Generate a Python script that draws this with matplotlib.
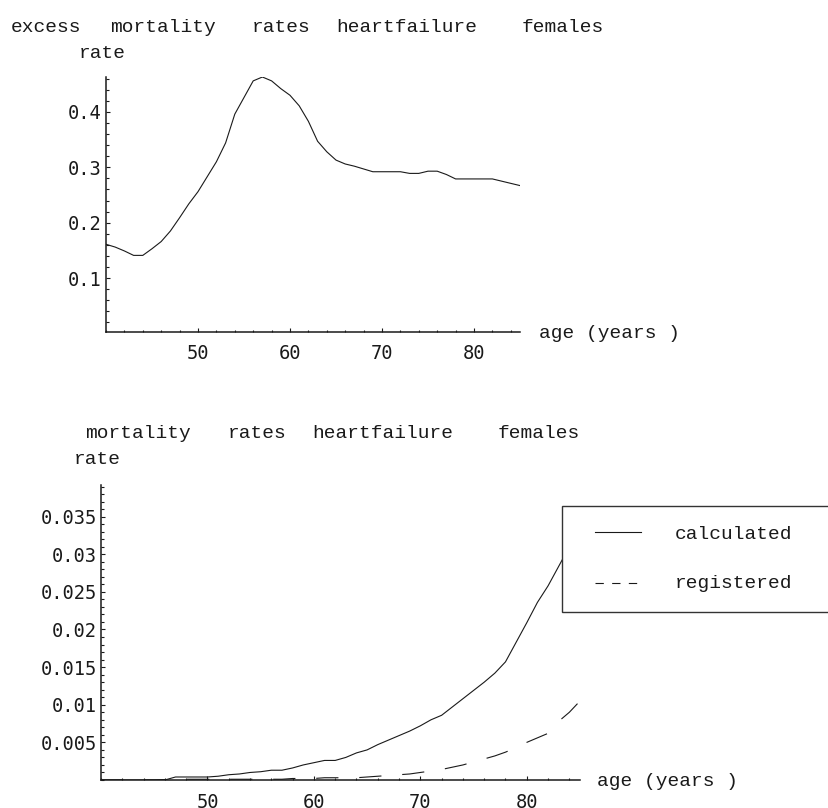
import matplotlib
matplotlib.use("Agg")
import matplotlib.pyplot as plt
from matplotlib.ticker import FixedLocator, FixedFormatter, MultipleLocator
from matplotlib.patches import Rectangle
from matplotlib.lines import Line2D

plt.rcParams["lines.scale_dashes"] = False

W, H = 829, 808

# ---- data -------------------------------------------------------------
ages = list(range(40, 86))

excess_rate = [0.161, 0.156, 0.149, 0.141, 0.141, 0.153, 0.166, 0.185, 0.209, 0.234,
               0.256, 0.283, 0.310, 0.344, 0.396, 0.426, 0.456, 0.463, 0.456, 0.442,
               0.430, 0.411, 0.383, 0.347, 0.328, 0.313, 0.306, 0.302, 0.297, 0.292,
               0.292, 0.292, 0.292, 0.289, 0.289, 0.293, 0.293, 0.287, 0.279, 0.279,
               0.279, 0.279, 0.279, 0.275, 0.271, 0.267]

calculated = [0.0, 0.0, 0.0, 0.0, 0.0, 0.0, 0.0, 0.0004, 0.0004, 0.0004,
              0.0004, 0.0005, 0.0007, 0.0008, 0.0010, 0.0011, 0.0013, 0.0013, 0.0016, 0.0020,
              0.0023, 0.0026, 0.0026, 0.0030, 0.0036, 0.0040, 0.0047, 0.0053, 0.0059, 0.0065,
              0.0072, 0.0080, 0.0086, 0.0097, 0.0108, 0.0119, 0.0130, 0.0142, 0.0157, 0.0183,
              0.0209, 0.0236, 0.0258, 0.0284, 0.0310, 0.0340]

registered = [0.0, 0.0, 0.0, 0.0, 0.0, 0.0, 0.00005, 0.0001, 0.0001, 0.0001,
              0.0001, 0.0001, 0.0001, 0.0001, 0.0001, 0.0001, 0.0001, 0.0001, 0.0002, 0.0002,
              0.0002, 0.0003, 0.0003, 0.0003, 0.0003, 0.0004, 0.0005, 0.0006, 0.0007, 0.0008,
              0.0010, 0.0012, 0.0014, 0.0017, 0.0020, 0.0024, 0.0028, 0.0032, 0.0037, 0.0043,
              0.0050, 0.0056, 0.0062, 0.0078, 0.0090, 0.0105]

x_ticks = [50, 60, 70, 80]
x_tick_labels = ["50", "60", "70", "80"]
top_y_ticks = [0.1, 0.2, 0.3, 0.4]
top_y_labels = ["0.1", "0.2", "0.3", "0.4"]
bot_y_ticks = [0.005, 0.01, 0.015, 0.02, 0.025, 0.03, 0.035]
bot_y_labels = ["0.005", "0.01", "0.015", "0.02", "0.025", "0.03", "0.035"]

top_title_words = ["excess", "mortality", "rates", "heartfailure", "females"]
bot_title_words = ["mortality", "rates", "heartfailure", "females"]
series_names = ["calculated", "registered"]

# ---- styling ----------------------------------------------------------
TXT_FONT = ["Liberation Mono", "DejaVu Sans Mono"]
TICK_FONT = ["DejaVu Sans Mono"]
TXT_SIZE = 14
TICK_SIZE = 13.5
INK = "#1a1a1a"

fig = plt.figure(figsize=(W / 100, H / 100), dpi=100)


def fx(px):
    return px / W


def fy(py):
    return 1 - py / H


def axes_box(x0, y0, x1, y1):
    return [fx(x0), fy(y1), fx(x1) - fx(x0), fy(y0) - fy(y1)]


def style_axes(ax, yticks, ylabels, yminor):
    for s in ("top", "right"):
        ax.spines[s].set_visible(False)
    for s in ("left", "bottom"):
        ax.spines[s].set_linewidth(1.1)
        ax.spines[s].set_color(INK)
    ax.xaxis.set_major_locator(FixedLocator(x_ticks))
    ax.xaxis.set_major_formatter(FixedFormatter(x_tick_labels))
    ax.xaxis.set_minor_locator(MultipleLocator(2))
    ax.yaxis.set_major_locator(FixedLocator(yticks))
    ax.yaxis.set_major_formatter(FixedFormatter(ylabels))
    ax.yaxis.set_minor_locator(MultipleLocator(yminor))
    ax.tick_params(which="both", direction="in", color=INK, width=0.8)
    ax.tick_params(which="major", length=3.2)
    ax.tick_params(which="minor", length=1.8)
    ax.tick_params(axis="x", which="major", pad=9)
    ax.tick_params(axis="y", which="major", pad=3)
    for lab in ax.get_xticklabels() + ax.get_yticklabels():
        lab.set_family(TICK_FONT)
        lab.set_fontsize(TICK_SIZE)
        lab.set_color(INK)


# ---- top panel: excess mortality rate --------------------------------
ax1 = fig.add_axes(axes_box(106, 77, 520, 332))
ax1.plot(ages, excess_rate, color=INK, lw=0.8)
ax1.set_xlim(40, 85)
ax1.set_ylim(0.0027, 0.463)
style_axes(ax1, top_y_ticks, top_y_labels, 0.02)

# ---- bottom panel: mortality rates -----------------------------------
ax2 = fig.add_axes(axes_box(101, 485, 580, 780))
ax2.plot(ages, calculated, color=INK, lw=0.8)
ax2.plot(ages, registered, color=INK, lw=0.8, dashes=(16, 15))
ax2.set_xlim(40, 85)
ax2.set_ylim(0.0, 0.0392)
style_axes(ax2, bot_y_ticks, bot_y_labels, 0.001)


def label(px, py, s):
    fig.text(fx(px), fy(py), s, family=TXT_FONT, fontsize=TXT_SIZE,
             color=INK, ha="left", va="baseline")


# titles placed word by word
for word, xp in zip(top_title_words, [11, 110, 252, 336, 522]):
    label(xp, 32, word)
for word, xp in zip(bot_title_words, [85, 228, 312, 498]):
    label(xp, 438, word)

label(79, 58, "rate")
label(74, 464, "rate")
label(539, 338, "age (years )")
label(597, 786, "age (years )")

# legend box on the bottom panel
fig.add_artist(Rectangle((fx(562), fy(612)), fx(270), fy(506) - fy(612),
                         transform=fig.transFigure, facecolor="white",
                         edgecolor="#333333", lw=1.0, zorder=5))
fig.add_artist(Line2D([fx(595), fx(641)], [fy(532), fy(532)],
                      transform=fig.transFigure, color=INK, lw=0.8, zorder=6))
fig.add_artist(Line2D([fx(595), fx(641)], [fy(583), fy(583)],
                      transform=fig.transFigure, color=INK, lw=0.8,
                      dashes=(6, 6), zorder=6))
for name, yb in zip(series_names, [539, 588]):
    fig.text(fx(675), fy(yb), name, family=TXT_FONT, fontsize=TXT_SIZE,
             color=INK, ha="left", va="baseline", zorder=7)

fig.savefig("out.png", dpi=100, facecolor="white")
